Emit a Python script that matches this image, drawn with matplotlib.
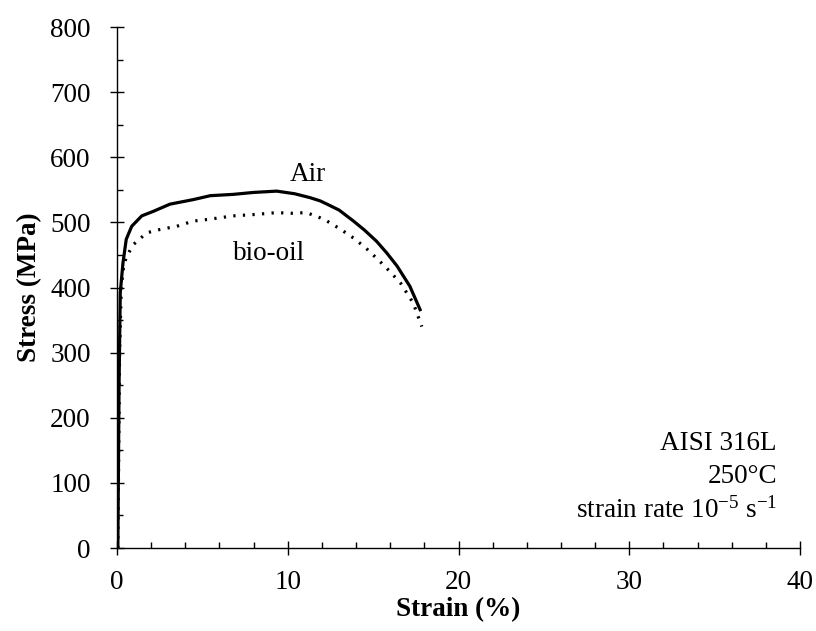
import matplotlib
matplotlib.use("Agg")
import matplotlib.pyplot as plt
from matplotlib.ticker import MultipleLocator

plt.rcParams['font.family'] = ['Liberation Serif', 'DejaVu Serif']
plt.rcParams['mathtext.fontset'] = 'custom'
plt.rcParams['mathtext.rm'] = 'Liberation Serif'
plt.rcParams['mathtext.it'] = 'Liberation Serif:italic'
plt.rcParams['mathtext.bf'] = 'Liberation Serif:bold'

# Data
air_strain = [0.05, 0.12, 0.19, 0.35, 0.54, 0.86, 1.45, 2.13, 3.1, 4.47, 5.46, 6.8,
              8.0, 9.35, 10.4, 11.3, 11.9, 12.3, 13.0, 13.85, 14.5, 15.2, 15.8,
              16.4, 17.15, 17.75]
air_stress = [0, 250, 392, 438, 474, 494, 510, 517, 528, 535, 541, 543,
              546, 548, 544, 538, 533, 528, 519, 502, 488, 471, 453,
              433, 402, 366]

bio_strain = [0.05, 0.15, 0.25, 0.4, 0.57, 0.96, 1.74, 2.5, 3.5, 4.47, 5.46, 6.8,
              8.0, 9.35, 10.2, 11.1, 11.9, 12.3, 13.0, 13.85, 14.6, 15.4, 16.0,
              16.6, 17.35, 17.85]
bio_stress = [0, 300, 400, 435, 448, 466, 484, 489, 494, 502, 505, 510,
              512, 515, 514, 515, 507, 502, 491, 476, 460, 440, 424,
              407, 376, 340]

x_ticks = [0, 10, 20, 30, 40]
y_ticks = [0, 100, 200, 300, 400, 500, 600, 700, 800]

fig = plt.figure(figsize=(8.16, 6.31), dpi=100)
ax = fig.add_axes([0.1434, 0.1315, 0.8370, 0.8257])

ax.plot(air_strain, air_stress, color='black', lw=2.3, solid_joinstyle='round')
ax.plot(bio_strain, bio_stress, color='black', lw=2.3, linestyle=(0, (0.7, 2.3)),
        dash_capstyle='butt')

ax.set_xlim(0, 40)
ax.set_ylim(0, 800)
ax.set_xticks(x_ticks)
ax.set_yticks(y_ticks)
ax.xaxis.set_minor_locator(MultipleLocator(2))
ax.yaxis.set_minor_locator(MultipleLocator(50))

for s in ['top', 'right']:
    ax.spines[s].set_visible(False)
for s in ['left', 'bottom']:
    ax.spines[s].set_linewidth(1.0)

ax.tick_params(which='major', direction='inout', length=10, width=1.0, labelsize=19.5)
ax.tick_params(axis='y', which='major', pad=14)
ax.tick_params(axis='x', which='major', pad=11)
ax.tick_params(which='minor', direction='in', length=4.5, width=1.0)

ax.set_xlabel('Strain (%)', fontsize=19.5, fontweight='bold', labelpad=1)
ax.set_ylabel('Stress (MPa)', fontsize=19.5, fontweight='bold', labelpad=6)

ax.text(11.2, 574, 'Air', fontsize=19.5, ha='center', va='center')
ax.text(8.9, 452, 'bio-oil', fontsize=19.5, ha='center', va='center')

ax.text(38.65, 161, 'AISI 316L', fontsize=19.5, ha='right', va='center')
ax.text(38.65, 110, '250°C', fontsize=19.5, ha='right', va='center')
ax.text(38.65, 58, r'strain rate 10$^{\mathrm{-5}}$ s$^{\mathrm{-1}}$', fontsize=19.5,
        ha='right', va='center')

fig.savefig('out.png', dpi=100)
